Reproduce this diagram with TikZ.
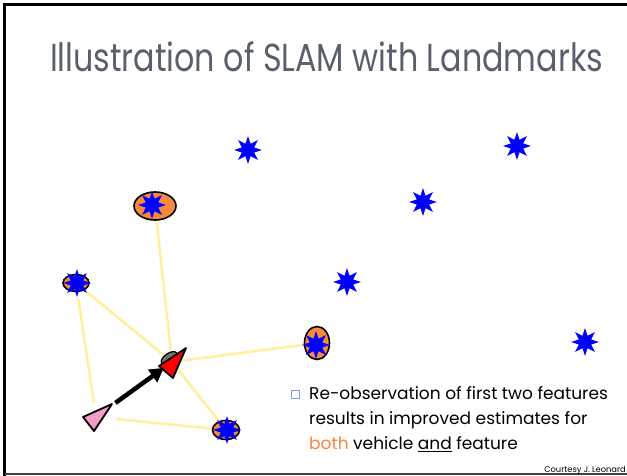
\documentclass[tikz,border=0pt]{standalone}
\usepackage{fontspec}
\setmainfont{Poppins}
\usetikzlibrary{shapes.geometric,arrows.meta}

\definecolor{titlegray}{HTML}{58606B}
\definecolor{covorange}{HTML}{F68A3A}
\definecolor{obsyellow}{HTML}{FFF0A0}
\definecolor{oldpink}{HTML}{F49AC8}
\definecolor{bulletblue}{HTML}{7F9FD8}
\definecolor{bothorange}{HTML}{F4853C}

% heavier underline than \underline gives
\newcommand\boldul[1]{\setbox0\hbox{#1}\rlap{\rule[-3pt]{\wd0}{1.5pt}}#1}

\tikzset{
  landmark/.style={star, star points=8, star point ratio=2.1, fill=blue, inner sep=0pt, minimum size=28pt},
  cov/.style={ellipse, draw=black, line width=1.6pt, fill=covorange, inner sep=0pt},
  obs/.style={draw=obsyellow, line width=2.6pt},
  pose/.style={draw=black, line width=1.8pt, line join=round},
  motion/.style={line width=4.5pt, -{Triangle[length=14pt,width=15pt]}},
  note/.style={anchor=base west, inner sep=0pt, font=\fontsize{17}{20}\selectfont},
}

\begin{document}
\begin{tikzpicture}[x=1pt, y=-1pt]
\useasboundingbox (0,0) rectangle (627,476);

% slide frame
\draw[line width=3pt] (4.5,476) -- (4.5,4.5) -- (627,4.5);
\draw[line width=1.5pt, black!75] (4.5,474) -- (627,474);

% title
\node[anchor=base, inner sep=0pt, text=titlegray] (title) at (326.5,71.5)
  {\resizebox{553pt}{\height}{\fontsize{39}{44}\selectfont Illustration of SLAM with Landmarks}};

% re-observed features and the two vehicle poses
\coordinate (f1) at (155,206);
\coordinate (f2) at (76,283);
\coordinate (f3) at (317,343);
\coordinate (f4) at (226,430);
\coordinate (veh) at (172,362);
\coordinate (old) at (96,417);

% observations
\draw[obs, shorten >=7pt] (f1) -- (veh);
\draw[obs, shorten >=6pt] (f2) -- (veh);
\draw[obs, shorten >=11pt] (f3) -- (veh);
\draw[obs, shorten <=7pt] (veh) -- (f4);
\draw[obs, shorten <=16pt, shorten >=14pt] (f2) -- (old);
\draw[obs, shorten <=20pt] (old) -- (f4);

% covariance ellipses
\node[cov, minimum width=42pt, minimum height=28pt] (e1) at (f1) {};
\node[cov, minimum width=26pt, minimum height=17pt] (e2) at (f2) {};
\node[cov, minimum width=25pt, minimum height=33pt] (e3) at (f3) {};
\node[cov, minimum width=27pt, minimum height=19pt] (e4) at (f4) {};

% landmarks
\node[landmark] (s1) at (152,205) {};
\node[landmark] (s2) at (77,283) {};
\node[landmark] (s3) at (316,345) {};
\node[landmark] (s4) at (227,430) {};
\node[landmark] (s5) at (248,150) {};
\node[landmark] (s6) at (517,146) {};
\node[landmark] (s7) at (423,202) {};
\node[landmark] (s8) at (347,282) {};
\node[landmark] (s9) at (585,342) {};

% vehicle: earlier pose, motion, current pose
\draw[pose, fill=oldpink] (83,417) -- (112,404) -- (94,431) -- cycle;
\draw[motion, shorten <=24pt, shorten >=10pt] (old) -- (veh);
\draw[fill=black!55, line width=1.2pt, rotate around={35:(169,358)}] (169,358) ellipse (9 and 4.5);
\draw[pose, fill=red] (159,366) -- (186,348) -- (173,378) -- cycle;

% bullet text
\node[draw=bulletblue, line width=0.9pt, minimum size=8.5pt, inner sep=0pt] (bullet) at (295.5,394.5) {};
\node[note] (line1) at (309,399) {Re-observation of first two features};
\node[note] (line2) at (309,424) {results in improved estimates for};
\node[note] (line3) at (309,449) {\textcolor{bothorange}{both} vehicle \boldul{and} feature};

\node[anchor=base east, inner sep=0pt, font=\fontsize{8.3}{10}\selectfont] (credit) at (626,472) {Courtesy J. Leonard};
\end{tikzpicture}
\end{document}
